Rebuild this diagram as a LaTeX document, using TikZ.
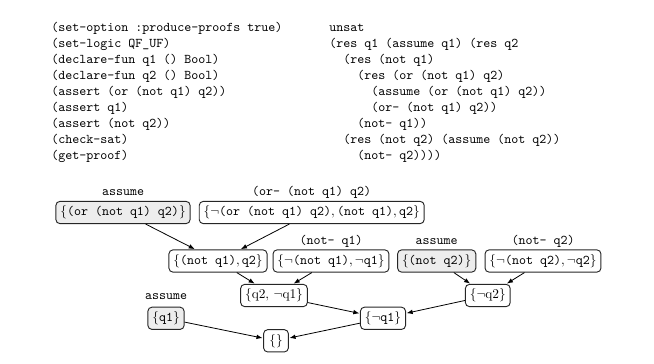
\documentclass[tikz,border=0pt]{standalone}
\usetikzlibrary{arrows.meta}
\begin{document}
\begin{tikzpicture}[x=0.75pt,y=-0.75pt,
  codeline/.style={anchor=base west,inner sep=0pt,font=\ttfamily},
  tag/.style={anchor=base,inner sep=0pt,font=\ttfamily},
  clause/.style={draw=black!85,rounded corners=3pt,line width=0.7pt,
    text height=7.5pt,text depth=2.5pt,inner sep=3.33pt},
  given/.style={clause,fill=black!7},
  infer/.style={-{Latex[length=4.5pt,width=3.5pt]},line width=0.6pt,shorten >=0.5pt}]
\useasboundingbox (0,0) rectangle (654,364);

% SMT-LIB script
\foreach \txt [count=\i] in {
  {(set-option :produce-proofs true)},
  {(set-logic QF\_UF)},
  {(declare-fun q1 () Bool)},
  {(declare-fun q2 () Bool)},
  {(assert (or (not q1) q2))},
  {(assert q1)},
  {(assert (not q2))},
  {(check-sat)},
  {(get-proof)}}
  \node[codeline,name=src\i] at (51,{31.5+16*(\i-1)}) {\txt};

% solver output with the resolution proof
\foreach \txt [count=\i] in {
  {unsat},
  {(res q1 (assume q1) (res q2},
  {\ \ (res (not q1)},
  {\ \ \ \ (res (or (not q1) q2)},
  {\ \ \ \ \ \ (assume (or (not q1) q2))},
  {\ \ \ \ \ \ (or- (not q1) q2))},
  {\ \ \ \ (not- q1))},
  {\ \ (res (not q2) (assume (not q2))},
  {\ \ \ \ (not- q2))))}}
  \node[codeline,name=out\i] at (329,{31.5+16*(\i-1)}) {\txt};

% proof tree
\node[given] (a) at (123,212.5) {$\{\mbox{\ttfamily(or (not q1) q2)}\}$};
\node[clause] (b) at (311.7,212.5) {$\{\neg\mbox{\ttfamily(or (not q1) q2)},\mbox{\ttfamily(not q1)},\mbox{\ttfamily q2}\}$};
\node[clause] (c) at (218,261) {$\{\mbox{\ttfamily(not q1)},\mbox{\ttfamily q2}\}$};
\node[clause] (d) at (331,261) {$\{\neg\mbox{\ttfamily(not q1)},\neg\mbox{\ttfamily q1}\}$};
\node[given] (e) at (436.7,261) {$\{\mbox{\ttfamily(not q2)}\}$};
\node[clause] (f) at (543,261) {$\{\neg\mbox{\ttfamily(not q2)},\neg\mbox{\ttfamily q2}\}$};
\node[clause] (g) at (487.8,295.5) {$\{\neg\mathrm{q2}\}$};
\node[clause] (h) at (274,295.5) {$\{\mathrm{q2},\,\neg\mathrm{q1}\}$};
\node[clause] (i) at (383,318.3) {$\{\neg\mbox{\ttfamily q1}\}$};
\node[given] (j) at (166,318.3) {$\{\mbox{\ttfamily q1}\}$};
\node[clause,inner xsep=4.3pt] (k) at (276,340.8) {$\{\}$};

% rule names
\node[tag] (ta) at (123,195) {assume};
\node[tag] (tb) at (311.7,195) {(or- (not q1) q2)};
\node[tag] (td) at (331,244) {(not- q1)};
\node[tag] (te) at (436.7,244) {assume};
\node[tag] (tf) at (543,244) {(not- q2)};
\node[tag] (tj) at (166,299.6) {assume};

% resolution steps
\draw[infer] (a) -- (c);
\draw[infer] (b) -- (c);
\draw[infer] (c) -- (h);
\draw[infer] (d) -- (h);
\draw[infer] (e) -- (g);
\draw[infer] (f) -- (g);
\draw[infer] (h) -- (i);
\draw[infer] (g) -- (i);
\draw[infer] (j) -- (k);
\draw[infer] (i) -- (k);
\end{tikzpicture}
\end{document}
